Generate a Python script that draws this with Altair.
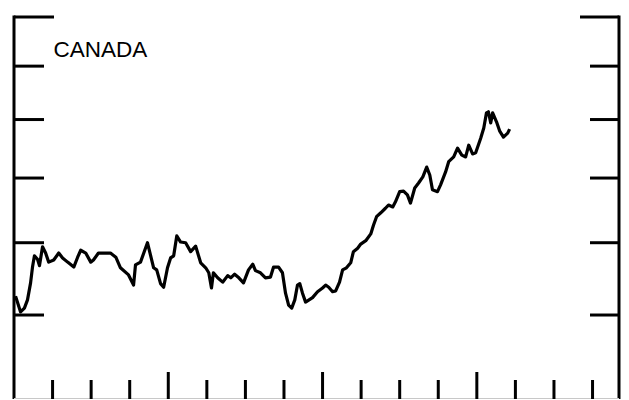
import altair as alt
import pandas as pd

# time (years from start of the period) and index values
t_years = [0.04, 0.17, 0.27, 0.35, 0.43, 0.48, 0.53, 0.61, 0.66, 0.74, 0.82, 0.90, 1.03, 1.16, 1.26,
           1.39, 1.55, 1.65, 1.73, 1.86, 1.99, 2.06, 2.19, 2.32, 2.50, 2.64, 2.76, 2.97, 3.10, 3.15,
           3.28, 3.46, 3.62, 3.70, 3.80, 3.88, 3.98, 4.06, 4.14, 4.22, 4.32, 4.45, 4.58, 4.71, 4.84,
           4.97, 5.05, 5.12, 5.17, 5.28, 5.41, 5.54, 5.62, 5.72, 5.83, 5.95, 6.08, 6.19, 6.26, 6.39,
           6.52, 6.65, 6.73, 6.86, 6.96, 7.04, 7.12, 7.20, 7.28, 7.35, 7.41, 7.48, 7.56, 7.74, 7.87,
           8.00, 8.08, 8.16, 8.26, 8.34, 8.44, 8.52, 8.62, 8.73, 8.80, 8.91, 8.99, 9.12, 9.25, 9.32,
           9.40, 9.51, 9.63, 9.71, 9.82, 9.89, 10.00, 10.10, 10.20, 10.28, 10.39, 10.49, 10.60, 10.70,
           10.78, 10.85, 10.98, 11.06, 11.19, 11.27, 11.40, 11.50, 11.61, 11.71, 11.79, 11.89, 11.97,
           12.10, 12.18, 12.25, 12.30, 12.36, 12.41, 12.51, 12.59, 12.69, 12.80, 12.85]
values = [82.5, 80.4, 80.9, 82.0, 84.3, 86.5, 88.1, 87.6, 86.7, 89.4, 88.5, 87.2, 87.5, 88.5, 87.8,
          87.2, 86.5, 87.9, 88.9, 88.5, 87.2, 87.5, 88.5, 88.5, 88.5, 87.9, 86.4, 85.4, 84.0, 86.8,
          87.2, 90.0, 86.4, 86.1, 84.2, 83.7, 86.4, 87.8, 88.1, 91.0, 90.1, 90.0, 88.7, 89.5, 87.1,
          86.4, 85.7, 83.6, 85.7, 85.0, 84.4, 85.3, 85.0, 85.5, 85.0, 84.3, 86.1, 86.9, 86.0, 85.7,
          85.0, 85.1, 86.5, 86.5, 85.7, 82.9, 81.3, 80.9, 82.0, 84.0, 84.2, 82.9, 81.7, 82.3, 83.1,
          83.6, 84.0, 83.7, 83.1, 83.2, 84.4, 86.1, 86.4, 87.1, 88.7, 89.2, 89.8, 90.3, 91.3, 92.6,
          93.9, 94.5, 95.2, 95.7, 95.4, 96.2, 97.8, 97.9, 97.3, 96.0, 98.4, 99.2, 100.2, 101.8,
          100.5, 98.1, 97.8, 98.9, 101.0, 102.7, 103.5, 105.0, 103.8, 103.5, 105.5, 104.0, 104.2,
          106.7, 108.5, 111.2, 111.4, 109.4, 111.2, 109.6, 108.0, 106.9, 107.6, 108.3]

y_ticks = [120, 110, 100, 90, 80]
y_top = [130]
x_minor = [1, 2, 3, 5, 6, 7, 9, 10, 11, 13, 14, 15]
x_major = [4, 8, 12]
label = ["CANADA"]

W, H = 605, 382
xs = alt.Scale(domain=[0, 15.686], nice=False, zero=False)
ys = alt.Scale(type="log", domain=[69.77, 130], nice=False, zero=False)

df = pd.DataFrame({"t": t_years, "v": values})

line = alt.Chart(df).mark_line(color="black", strokeWidth=3.2, strokeJoin="round").encode(
    x=alt.X("t:Q", scale=xs, axis=None),
    y=alt.Y("v:Q", scale=ys, axis=None),
)

def yrule(vals, x1, x2):
    return alt.Chart(pd.DataFrame({"v": vals})).mark_rule(color="black", strokeWidth=3).encode(
        y=alt.Y("v:Q", scale=ys, axis=None), x=alt.value(x1), x2=alt.value(x2))

def xrule(vals, length):
    return alt.Chart(pd.DataFrame({"t": vals})).mark_rule(color="black", strokeWidth=3).encode(
        x=alt.X("t:Q", scale=xs, axis=None), y=alt.value(H - length), y2=alt.value(H))

frame_df = pd.DataFrame({"v": [0]})
left_border = alt.Chart(frame_df).mark_rule(color="black", strokeWidth=3).encode(
    x=alt.value(0), y=alt.value(-1.5), y2=alt.value(H))
right_border = alt.Chart(frame_df).mark_rule(color="black", strokeWidth=3).encode(
    x=alt.value(W), y=alt.value(-1.5), y2=alt.value(H))
bottom_border = alt.Chart(frame_df).mark_rule(color="#c8c8c8", strokeWidth=1).encode(
    x=alt.value(0), x2=alt.value(W), y=alt.value(H - 0.5), y2=alt.value(H - 0.5))

text = alt.Chart(pd.DataFrame({"label": label})).mark_text(
    align="left", baseline="alphabetic", font="Liberation Sans", fontSize=22.5, color="black"
).encode(x=alt.value(39.5), y=alt.value(39.5), text="label:N")

chart = alt.layer(
    left_border, right_border, bottom_border,
    yrule(y_ticks, 0, 30), yrule(y_top, 0, 40),
    yrule(y_ticks, W - 29, W), yrule(y_top, W - 39, W),
    xrule(x_minor, 19), xrule(x_major, 27),
    line, text,
).properties(
    width=W, height=H,
    padding={"left": 6, "top": 9, "right": 2, "bottom": 0},
    autosize=alt.AutoSizeParams(type="none"),
    background="white",
).configure_view(stroke=None)

chart.save("out.html", embed_options={"renderer": "svg", "actions": False})
